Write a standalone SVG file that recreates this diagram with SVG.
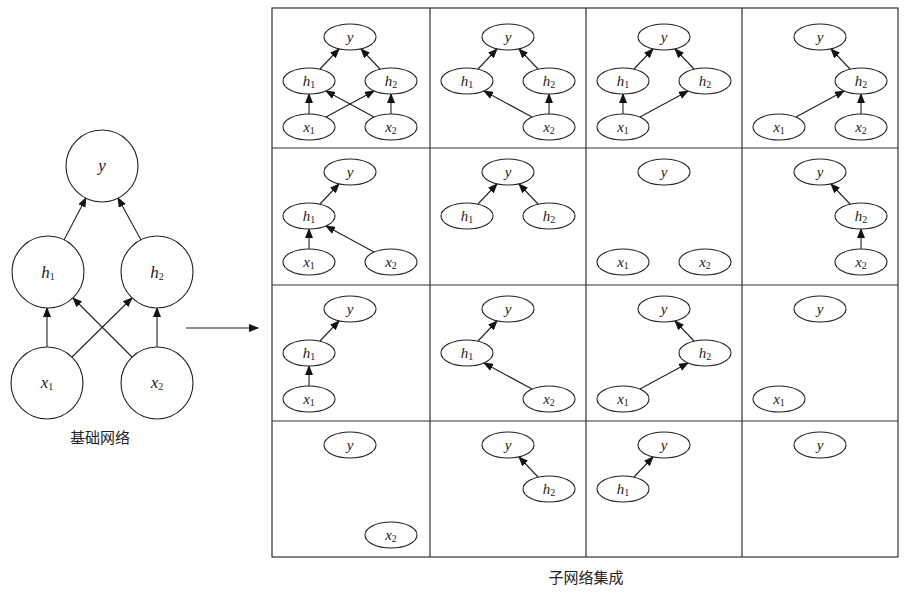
<svg xmlns="http://www.w3.org/2000/svg" width="909" height="603" viewBox="0 0 909 603">
<style>
.n{fill:#fff;stroke:#222;stroke-width:1.1}
.t{font-family:"Liberation Serif",serif;font-style:italic;font-size:15px;text-anchor:middle;fill:#222}
.T{font-family:"Liberation Serif",serif;font-style:italic;font-size:17px;text-anchor:middle;fill:#222}
.s{font-style:normal;font-size:10px}
.e{stroke:#222;stroke-width:1.1;fill:none;marker-end:url(#a)}
.g{fill:none;stroke:#333;stroke-width:1.2}
.c{font-family:"Noto Sans CJK SC",sans-serif;font-size:15px;text-anchor:middle;fill:#222}
</style>
<defs>
<marker id="a" markerWidth="10" markerHeight="8" refX="9" refY="4" orient="auto" markerUnits="userSpaceOnUse"><path d="M0,0 L10,4 L0,8 z" fill="#111"/></marker>
<ellipse id="E" class="n" rx="26" ry="13"/>
</defs>
<g id="connectors">
<line class="e" x1="64" y1="240" x2="86" y2="198"/>
<line class="e" x1="141" y1="240" x2="118" y2="198"/>
<line class="e" x1="47" y1="347" x2="47" y2="308"/>
<line class="e" x1="157" y1="347" x2="157" y2="308"/>
<line class="e" x1="72" y1="357" x2="132" y2="298"/>
<line class="e" x1="132" y1="357" x2="73" y2="298"/>
<line class="e" x1="186" y1="328" x2="258" y2="328"/>
</g>
<g id="base-y"><circle class="n" cx="102" cy="166" r="36"/><text class="T" x="102" y="171">y</text></g>
<g id="base-h1"><circle class="n" cx="48" cy="272" r="36"/><text class="T" x="48" y="278">h<tspan class="s" dy="2">1</tspan></text></g>
<g id="base-h2"><circle class="n" cx="157" cy="272" r="36"/><text class="T" x="157" y="278">h<tspan class="s" dy="2">2</tspan></text></g>
<g id="base-x1"><circle class="n" cx="47" cy="383" r="36"/><text class="T" x="47" y="388">x<tspan class="s" dy="2">1</tspan></text></g>
<g id="base-x2"><circle class="n" cx="157" cy="383" r="36"/><text class="T" x="157" y="388">x<tspan class="s" dy="2">2</tspan></text></g>
<text class="c" x="100" y="443">基础网络</text>
<g id="grid">
<rect class="g" x="272" y="8" width="626" height="549"/>
<line class="g" x1="272" y1="148" x2="898" y2="148"/>
<line class="g" x1="272" y1="285" x2="898" y2="285"/>
<line class="g" x1="272" y1="421" x2="898" y2="421"/>
<line class="g" x1="430" y1="8" x2="430" y2="557"/>
<line class="g" x1="586" y1="8" x2="586" y2="557"/>
<line class="g" x1="742" y1="8" x2="742" y2="557"/>
</g>
<text class="c" x="586" y="583">子网络集成</text>

<!-- Row 1 -->
<g id="c11" transform="translate(272,11)">
<line class="e" x1="48" y1="58" x2="67" y2="38"/><line class="e" x1="108" y1="58" x2="89" y2="38"/>
<line class="e" x1="37" y1="103" x2="37" y2="83"/><line class="e" x1="119" y1="103" x2="119" y2="83"/>
<line class="e" x1="54" y1="106" x2="102" y2="80"/><line class="e" x1="102" y1="106" x2="54" y2="80"/>
<use href="#E" x="78" y="26"/><text class="t" x="78" y="31">y</text>
<use href="#E" x="37" y="70"/><text class="t" x="37" y="75">h<tspan class="s" dy="2">1</tspan></text>
<use href="#E" x="119" y="70"/><text class="t" x="119" y="75">h<tspan class="s" dy="2">2</tspan></text>
<use href="#E" x="37" y="116"/><text class="t" x="37" y="121">x<tspan class="s" dy="2">1</tspan></text>
<use href="#E" x="119" y="116"/><text class="t" x="119" y="121">x<tspan class="s" dy="2">2</tspan></text>
</g>
<g id="c12" transform="translate(430,11)">
<line class="e" x1="48" y1="58" x2="67" y2="38"/><line class="e" x1="108" y1="58" x2="89" y2="38"/>
<line class="e" x1="119" y1="103" x2="119" y2="83"/><line class="e" x1="102" y1="106" x2="54" y2="80"/>
<use href="#E" x="78" y="26"/><text class="t" x="78" y="31">y</text>
<use href="#E" x="37" y="70"/><text class="t" x="37" y="75">h<tspan class="s" dy="2">1</tspan></text>
<use href="#E" x="119" y="70"/><text class="t" x="119" y="75">h<tspan class="s" dy="2">2</tspan></text>
<use href="#E" x="119" y="116"/><text class="t" x="119" y="121">x<tspan class="s" dy="2">2</tspan></text>
</g>
<g id="c13" transform="translate(586,11)">
<line class="e" x1="48" y1="58" x2="67" y2="38"/><line class="e" x1="108" y1="58" x2="89" y2="38"/>
<line class="e" x1="37" y1="103" x2="37" y2="83"/><line class="e" x1="54" y1="106" x2="102" y2="80"/>
<use href="#E" x="78" y="26"/><text class="t" x="78" y="31">y</text>
<use href="#E" x="37" y="70"/><text class="t" x="37" y="75">h<tspan class="s" dy="2">1</tspan></text>
<use href="#E" x="119" y="70"/><text class="t" x="119" y="75">h<tspan class="s" dy="2">2</tspan></text>
<use href="#E" x="37" y="116"/><text class="t" x="37" y="121">x<tspan class="s" dy="2">1</tspan></text>
</g>
<g id="c14" transform="translate(742,11)">
<line class="e" x1="108" y1="58" x2="89" y2="38"/>
<line class="e" x1="119" y1="103" x2="119" y2="83"/><line class="e" x1="54" y1="106" x2="102" y2="80"/>
<use href="#E" x="78" y="26"/><text class="t" x="78" y="31">y</text>
<use href="#E" x="119" y="70"/><text class="t" x="119" y="75">h<tspan class="s" dy="2">2</tspan></text>
<use href="#E" x="37" y="116"/><text class="t" x="37" y="121">x<tspan class="s" dy="2">1</tspan></text>
<use href="#E" x="119" y="116"/><text class="t" x="119" y="121">x<tspan class="s" dy="2">2</tspan></text>
</g>
<!-- Row 2 -->
<g id="c21" transform="translate(272,146)">
<line class="e" x1="48" y1="58" x2="67" y2="38"/>
<line class="e" x1="37" y1="103" x2="37" y2="83"/><line class="e" x1="102" y1="106" x2="54" y2="80"/>
<use href="#E" x="78" y="26"/><text class="t" x="78" y="31">y</text>
<use href="#E" x="37" y="70"/><text class="t" x="37" y="75">h<tspan class="s" dy="2">1</tspan></text>
<use href="#E" x="37" y="116"/><text class="t" x="37" y="121">x<tspan class="s" dy="2">1</tspan></text>
<use href="#E" x="119" y="116"/><text class="t" x="119" y="121">x<tspan class="s" dy="2">2</tspan></text>
</g>
<g id="c22" transform="translate(430,146)">
<line class="e" x1="48" y1="58" x2="67" y2="38"/><line class="e" x1="108" y1="58" x2="89" y2="38"/>
<use href="#E" x="78" y="26"/><text class="t" x="78" y="31">y</text>
<use href="#E" x="37" y="70"/><text class="t" x="37" y="75">h<tspan class="s" dy="2">1</tspan></text>
<use href="#E" x="119" y="70"/><text class="t" x="119" y="75">h<tspan class="s" dy="2">2</tspan></text>
</g>
<g id="c23" transform="translate(586,146)">
<use href="#E" x="78" y="26"/><text class="t" x="78" y="31">y</text>
<use href="#E" x="37" y="116"/><text class="t" x="37" y="121">x<tspan class="s" dy="2">1</tspan></text>
<use href="#E" x="119" y="116"/><text class="t" x="119" y="121">x<tspan class="s" dy="2">2</tspan></text>
</g>
<g id="c24" transform="translate(742,146)">
<line class="e" x1="108" y1="58" x2="89" y2="38"/><line class="e" x1="119" y1="103" x2="119" y2="83"/>
<use href="#E" x="78" y="26"/><text class="t" x="78" y="31">y</text>
<use href="#E" x="119" y="70"/><text class="t" x="119" y="75">h<tspan class="s" dy="2">2</tspan></text>
<use href="#E" x="119" y="116"/><text class="t" x="119" y="121">x<tspan class="s" dy="2">2</tspan></text>
</g>
<!-- Row 3 -->
<g id="c31" transform="translate(272,283)">
<line class="e" x1="48" y1="58" x2="67" y2="38"/><line class="e" x1="37" y1="103" x2="37" y2="83"/>
<use href="#E" x="78" y="26"/><text class="t" x="78" y="31">y</text>
<use href="#E" x="37" y="70"/><text class="t" x="37" y="75">h<tspan class="s" dy="2">1</tspan></text>
<use href="#E" x="37" y="116"/><text class="t" x="37" y="121">x<tspan class="s" dy="2">1</tspan></text>
</g>
<g id="c32" transform="translate(430,283)">
<line class="e" x1="48" y1="58" x2="67" y2="38"/><line class="e" x1="102" y1="106" x2="54" y2="80"/>
<use href="#E" x="78" y="26"/><text class="t" x="78" y="31">y</text>
<use href="#E" x="37" y="70"/><text class="t" x="37" y="75">h<tspan class="s" dy="2">1</tspan></text>
<use href="#E" x="119" y="116"/><text class="t" x="119" y="121">x<tspan class="s" dy="2">2</tspan></text>
</g>
<g id="c33" transform="translate(586,283)">
<line class="e" x1="108" y1="58" x2="89" y2="38"/><line class="e" x1="54" y1="106" x2="102" y2="80"/>
<use href="#E" x="78" y="26"/><text class="t" x="78" y="31">y</text>
<use href="#E" x="119" y="70"/><text class="t" x="119" y="75">h<tspan class="s" dy="2">2</tspan></text>
<use href="#E" x="37" y="116"/><text class="t" x="37" y="121">x<tspan class="s" dy="2">1</tspan></text>
</g>
<g id="c34" transform="translate(742,283)">
<use href="#E" x="78" y="26"/><text class="t" x="78" y="31">y</text>
<use href="#E" x="37" y="116"/><text class="t" x="37" y="121">x<tspan class="s" dy="2">1</tspan></text>
</g>
<!-- Row 4 -->
<g id="c41" transform="translate(272,419)">
<use href="#E" x="78" y="26"/><text class="t" x="78" y="31">y</text>
<use href="#E" x="119" y="116"/><text class="t" x="119" y="121">x<tspan class="s" dy="2">2</tspan></text>
</g>
<g id="c42" transform="translate(430,419)">
<line class="e" x1="108" y1="58" x2="89" y2="38"/>
<use href="#E" x="78" y="26"/><text class="t" x="78" y="31">y</text>
<use href="#E" x="119" y="70"/><text class="t" x="119" y="75">h<tspan class="s" dy="2">2</tspan></text>
</g>
<g id="c43" transform="translate(586,419)">
<line class="e" x1="48" y1="58" x2="67" y2="38"/>
<use href="#E" x="78" y="26"/><text class="t" x="78" y="31">y</text>
<use href="#E" x="37" y="70"/><text class="t" x="37" y="75">h<tspan class="s" dy="2">1</tspan></text>
</g>
<g id="c44" transform="translate(742,419)">
<use href="#E" x="78" y="26"/><text class="t" x="78" y="31">y</text>
</g>
</svg>
